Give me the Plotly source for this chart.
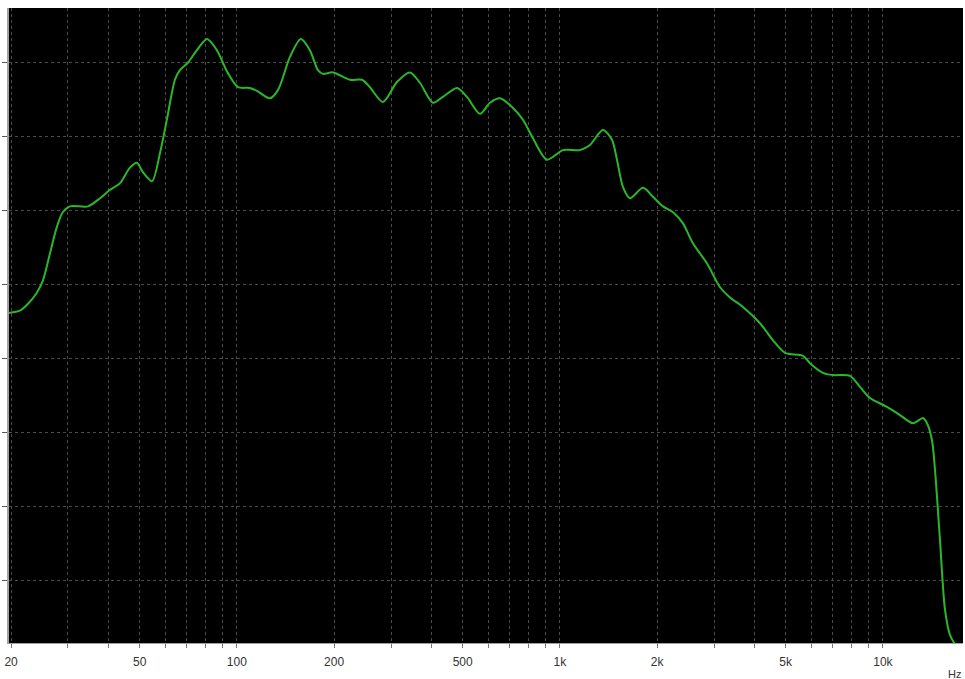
import plotly.graph_objects as go

# Frequency response (Hz) and level (dB, arbitrary reference)
freq_hz = [19.7, 21.3, 22.4, 24.0, 25.1, 26.4, 27.7, 28.9, 30.4, 34.6, 37.7, 40.4, 43.4,
           46.6, 49.0, 51.2, 54.6, 57.8, 60.7, 64.3, 66.6, 70.5, 75.2, 80.8, 86.7, 93.8,
           100.8, 109.7, 115.4, 126.5, 134.0, 146.0, 157.8, 168.3, 178.2, 184.7, 198.3,
           223.9, 243.9, 258.1, 283.2, 312.9, 343.3, 368.7, 404.5, 434.4, 480.2, 515.5,
           565.7, 607.4, 652.3, 715.7, 768.4, 825.2, 911.9, 1022, 1154, 1239, 1359, 1449,
           1502, 1568, 1648, 1808, 1941, 2085, 2239, 2404, 2581, 2852, 3129, 3361, 3687,
           4163, 4567, 4975, 5656, 5945, 6522, 7005, 7906, 8491, 9119, 10294, 11293,
           12389, 13306, 13691, 14188, 14495, 15019, 15565, 16129, 16835, 17694]
level_db = [46.1, 46.4, 47.2, 48.8, 50.5, 54.2, 57.7, 59.7, 60.5, 60.5, 61.6, 62.7, 63.6,
            65.7, 66.4, 65.1, 63.9, 67.7, 72.2, 77.6, 78.9, 79.9, 81.6, 83.1, 81.6, 78.5,
            76.6, 76.5, 76.1, 75.1, 76.2, 80.7, 83.1, 81.6, 78.9, 78.4, 78.6,
            77.6, 77.6, 76.6, 74.6, 77.3, 78.6, 77.2, 74.5, 75.3, 76.5, 75.3,
            73.0, 74.5, 75.1, 73.8, 72.2, 69.7, 66.8, 68.1, 68.1, 68.8, 70.8, 69.5,
            66.8, 63.1, 61.6, 63.0, 61.8, 60.5, 59.7, 58.2, 55.5, 52.8, 49.6, 48.2, 46.9,
            44.7, 42.4, 40.7, 40.3, 39.3, 38.0, 37.7, 37.6, 36.1, 34.6, 33.4, 32.3,
            31.2, 31.9, 31.2, 28.9, 24.9, 15.4, 6.0, 2.6, 1.2, 0.5]

# Axis ticks
x_tick_vals = [20, 30, 40, 50, 60, 70, 80, 90,
               100, 200, 300, 400, 500, 600, 700, 800, 900,
               1000, 2000, 3000, 4000, 5000, 6000, 7000, 8000, 9000,
               10000]
x_tick_text = ["20", "", "", "50", "", "", "", "",
               "100", "200", "", "", "500", "", "", "", "",
               "1k", "2k", "", "", "5k", "", "", "", "",
               "10k"]
y_tick_vals = [10, 20, 30, 40, 50, 60, 70, 80]

fig = go.Figure()
fig.add_trace(go.Scatter(
    x=freq_hz, y=level_db, mode="lines",
    line=dict(color="#29b829", width=2, shape="spline", smoothing=0.8),
    hoverinfo="skip", showlegend=False,
))

fig.update_layout(
    width=965, height=679,
    margin=dict(l=9, r=2, t=8, b=36),
    paper_bgcolor="white",
    plot_bgcolor="black",
    font=dict(family="Liberation Sans, Arial, sans-serif", size=12, color="#333333"),
    showlegend=False,
)

fig.update_xaxes(
    type="log",
    range=[1.2945, 4.2479],
    tickmode="array", tickvals=x_tick_vals, ticktext=x_tick_text,
    ticks="outside", ticklen=4, tickcolor="#777777", tickwidth=1,
    ticklabelstandoff=4,
    showgrid=True, gridcolor="#4a4a4a", griddash="dot", gridwidth=1,
    showline=True, linecolor="#a0a0a0", linewidth=1,
    zeroline=False,
    tickfont=dict(size=12, color="#333333"),
)
fig.update_yaxes(
    range=[1.5, 87.3],
    tickmode="array", tickvals=y_tick_vals, ticktext=[""] * len(y_tick_vals),
    ticks="outside", ticklen=5, tickcolor="#555555", tickwidth=1,
    showgrid=True, gridcolor="#4a4a4a", griddash="dot", gridwidth=1,
    showline=True, linecolor="#a0a0a0", linewidth=2,
    zeroline=False,
)

fig.add_annotation(
    text="Hz", xref="paper", yref="paper", x=1.0, y=-0.036,
    xanchor="right", yanchor="top", showarrow=False,
    font=dict(size=11, color="#333333"),
)

fig.write_html(
    "out.html",
    config={"displayModeBar": False},
    post_script="document.body.style.margin='0';document.body.style.padding='0';",
)
